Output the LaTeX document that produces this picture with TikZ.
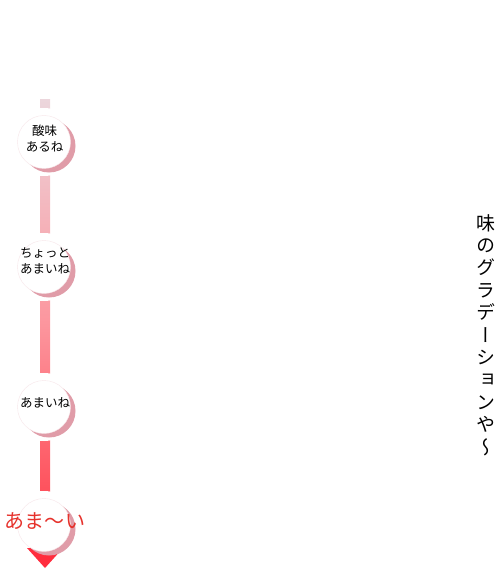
\documentclass[tikz,border=0pt]{standalone}
\usepackage{fontspec}
\newfontfamily\jp{Noto Sans CJK JP}
\newfontfamily\vjp[RawFeature=+vert]{Noto Sans CJK JP}
\definecolor{bartop}{RGB}{236,214,220}
\definecolor{barmid}{RGB}{252,150,158}
\definecolor{barbot}{RGB}{255,60,72}
\definecolor{shadowpink}{RGB}{224,156,168}
\definecolor{arrowred}{RGB}{255,45,62}
\definecolor{labelred}{RGB}{230,50,44}
\begin{document}
\begin{tikzpicture}[x=1pt,y=-1pt,
  mask/.style={circle,fill=white,minimum size=68pt,inner sep=0pt},
  shadowc/.style={circle,fill=shadowpink,minimum size=53pt,inner sep=0pt},
  stepcircle/.style={circle,fill=white,draw=shadowpink!25,line width=0.4pt,minimum size=53pt,inner sep=0pt},
  steplabel/.style={align=center,inner sep=0pt,font=\jp\fontsize{12.5}{16}\selectfont}]
\useasboundingbox (0,0) rectangle (500,572);
% bar
\shade[top color=bartop,bottom color=barbot,middle color=barmid] (40,100) rectangle (50,545);
% masks
\foreach \n/\y in {m1/142,m2/267,m3/407,m4/525}{
  \node[mask] (\n) at (44,\y) {};
}
% arrow head
\coordinate (tl) at (27,548);
\coordinate (tr) at (63,548);
\coordinate (tip) at (45,568);
\fill[arrowred] (tl) -- (tr) -- (tip) -- cycle;
% shadows and circles
\foreach \y in {142,267,407,525}{
  \node[shadowc] at (49,\y+4) {};
}
\node[stepcircle] (c1) at (44,142) {};
\node[stepcircle] (c2) at (44,267) {};
\node[stepcircle] (c3) at (44,407) {};
\node[stepcircle] (c4) at (44,525) {};
\node[steplabel] (t1) at (44.5,139) {酸味\\あるね};
\node[steplabel] (t2) at (45,261) {ちょっと\\あまいね};
\node[steplabel] (t3) at (45,403) {あまいね};
\node[font=\jp\fontsize{20}{24}\selectfont,text=labelred,inner sep=0pt] (t4) at (45,521) {あま～い};
% vertical title
\node[align=center,inner sep=0pt,anchor=north,font=\vjp\fontsize{19}{22.4}\selectfont] (title) at (486,214)
  {味\\の\\グ\\ラ\\デ\\ー\\シ\\ョ\\ン\\や\\～};
\end{tikzpicture}
\end{document}
